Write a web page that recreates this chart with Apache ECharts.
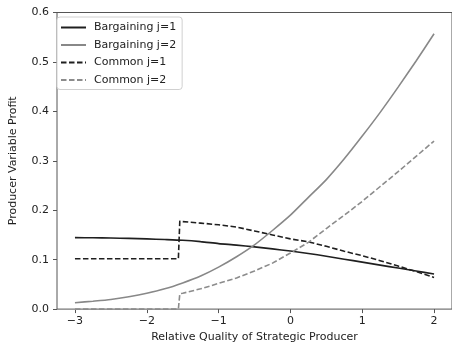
<!DOCTYPE html>
<html>
<head>
<meta charset="utf-8">
<script src="https://cdn.jsdelivr.net/npm/echarts@6/dist/echarts.min.js"></script>
<style>
html,body{margin:0;padding:0;background:#fff;}
#chart{width:452px;height:348px;}
</style>
</head>
<body>
<div id="chart"></div>
<script>
// Relative quality grid for bargaining series
var xBargain = [-3,-2.75,-2.5,-2.25,-2,-1.75,-1.5,-1.25,-1,-0.75,-0.5,-0.25,0,0.25,0.5,0.75,1,1.25,1.5,1.75,2];
var bargainJ1 = [0.1445,0.1443,0.1438,0.1430,0.1420,0.1408,0.1393,0.1365,0.1325,0.1295,0.1258,0.1218,0.1175,0.1125,0.107,0.101,0.095,0.089,0.083,0.077,0.071];
var bargainJ2 = [0.013,0.016,0.0195,0.025,0.032,0.041,0.053,0.067,0.085,0.106,0.130,0.159,0.190,0.226,0.262,0.304,0.350,0.398,0.449,0.502,0.557];
// Common series have a jump near -1.55
var xCommon = [-3,-2.5,-2,-1.75,-1.56,-1.54,-1.5,-1.25,-1,-0.75,-0.5,-0.25,0,0.25,0.5,0.75,1,1.25,1.5,1.75,2];
var commonJ1 = [0.102,0.102,0.102,0.102,0.102,0.178,0.177,0.174,0.1705,0.166,0.158,0.150,0.142,0.136,0.127,0.117,0.108,0.098,0.087,0.076,0.064];
var commonJ2 = [0,0,0,0,0,0.031,0.032,0.041,0.052,0.063,0.077,0.093,0.1135,0.135,0.163,0.190,0.218,0.248,0.278,0.309,0.340];
var xTicks = [-3,-2,-1,0,1,2];
var seriesNames = ['Bargaining j=1','Bargaining j=2','Common j=1','Common j=2'];

function pairs(xs, ys){ return xs.map(function(x,i){ return [x, ys[i]]; }); }

var chart = echarts.init(document.getElementById('chart'), null, {renderer:'canvas'});
var font = 'DejaVu Sans';
var fs = 11;
var lineW = 1.6;
var dash = [5.5, 2.5];
function mk(name, data, color, type, smooth){
  return {
    name: name, type: 'line', data: data, showSymbol: false, symbol: 'none',
    animation: false, smooth: smooth ? 0.25 : false,
    lineStyle: {color: color, width: lineW, type: type},
    itemStyle: {color: color},
    emphasis: {disabled: true}
  };
}
chart.setOption({
  animation: false,
  backgroundColor: '#fff',
  textStyle: {fontFamily: font},
  grid: {left: 52, top: 12.5, right: -3, bottom: 35.3, show: true, borderColor: '#555', borderWidth: 1, backgroundColor: 'transparent'},
  legend: {
    orient: 'vertical', left: 57, top: 17,
    padding: [5, 6, 4, 3],
    itemWidth: 25, itemHeight: 10, itemGap: 6.5,
    backgroundColor: '#fff', borderColor: '#d0d0d0', borderWidth: 1, borderRadius: 3,
    itemStyle: {opacity: 0},
    textStyle: {fontFamily: font, fontSize: fs, color: '#222', padding: [0,0,0,3]},
    data: seriesNames.map(function(n){ return {name: n}; })
  },
  xAxis: {
    type: 'value', min: -3.25, max: 2.25,
    name: 'Relative Quality of Strategic Producer', nameLocation: 'middle', nameGap: 22,
    nameTextStyle: {fontFamily: font, fontSize: fs, color: '#222'},
    axisLine: {show: false, onZero: false},
    axisTick: {show: true, inside: false, length: 4, lineStyle: {color: '#555'}, customValues: xTicks},
    axisLabel: {fontFamily: font, fontSize: fs, color: '#222', margin: 7, customValues: xTicks,
      formatter: function(v){ return String(v).replace('-', '\u2212'); }},
    splitLine: {show: false}
  },
  yAxis: {
    type: 'value', min: 0, max: 0.6, interval: 0.1,
    name: 'Producer Variable Profit', nameLocation: 'middle', nameGap: 38, nameRotate: 90,
    nameTextStyle: {fontFamily: font, fontSize: fs, color: '#222'},
    axisLine: {show: false, onZero: false},
    axisTick: {show: true, inside: false, length: 4, lineStyle: {color: '#555'}},
    axisLabel: {fontFamily: font, fontSize: fs, color: '#222', margin: 8,
      formatter: function(v){ return v.toFixed(1); }},
    splitLine: {show: false}
  },
  series: [
    mk(seriesNames[0], pairs(xBargain, bargainJ1), '#1f1f1f', 'solid', true),
    mk(seriesNames[1], pairs(xBargain, bargainJ2), '#888888', 'solid', true),
    mk(seriesNames[2], pairs(xCommon, commonJ1), '#1f1f1f', dash, false),
    mk(seriesNames[3], pairs(xCommon, commonJ2), '#8c8c8c', dash, false)
  ]
});
</script>
</body>
</html>
